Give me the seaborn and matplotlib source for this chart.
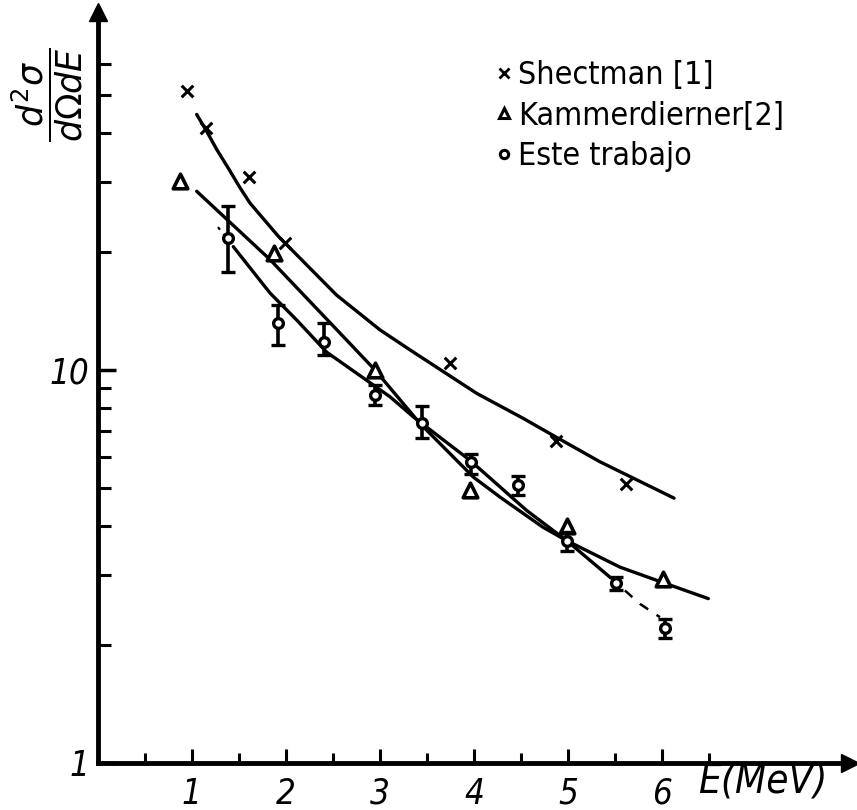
import numpy as np
import pandas as pd
import matplotlib
matplotlib.use("Agg")
import matplotlib.pyplot as plt
import seaborn as sns
from matplotlib.lines import Line2D
from matplotlib.ticker import FixedLocator, FixedFormatter, NullFormatter
from matplotlib.font_manager import FontProperties

# ---- data ----
shect_x = [0.95, 1.15, 1.61, 1.99, 3.75, 4.87, 5.62]
shect_y = [51.3, 41.4, 31.0, 21.0, 10.4, 6.6, 5.14]

kamm_x = [0.88, 1.88, 2.95, 3.96, 4.99, 6.01]
kamm_y = [30.2, 19.8, 10.0, 4.96, 4.0, 2.94]

este_x = [1.39, 1.915, 2.41, 2.95, 3.445, 3.966, 4.47, 4.99, 5.51, 6.03]
este_y = [21.7, 13.2, 11.8, 8.64, 7.31, 5.84, 5.09, 3.68, 2.87, 2.21]
este_lo = [17.8, 11.6, 10.9, 8.14, 6.70, 5.45, 4.80, 3.47, 2.75, 2.08]
este_hi = [26.1, 14.65, 13.2, 9.16, 8.09, 6.13, 5.37, 3.87, 2.97, 2.33]

# hand-drawn fitted curves
curve_s_x = [1.054, 1.160, 1.267, 1.408, 1.514, 1.620, 1.921, 2.542, 3.002, 3.321,
             4.030, 4.525, 4.873, 5.340, 6.127]
curve_s_y = [44.7, 40.5, 36.4, 32.1, 29.1, 26.6, 21.9, 15.5, 12.65, 11.25,
             8.72, 7.53, 6.75, 5.84, 4.72]

curve_k_x = [1.054, 1.833, 2.471, 2.949, 3.427, 3.994, 4.277, 4.734, 4.986, 5.553, 6.006, 6.491]
curve_k_y = [28.5, 19.1, 13.2, 10.0, 7.31, 5.34, 4.75, 3.98, 3.68, 3.15, 2.88, 2.62]

curve_e_head_x = [1.28, 1.443]
curve_e_head_y = [23.1, 20.6]
curve_e_x = [1.443, 1.833, 2.117, 2.436, 3.108, 3.356, 3.959, 4.561, 4.986, 5.446]
curve_e_y = [20.6, 15.7, 13.4, 11.1, 8.55, 7.60, 5.89, 4.39, 3.68, 2.97]
curve_e_tail_x = [5.446, 5.765, 5.977]
curve_e_tail_y = [2.97, 2.54, 2.35]

x_tick_vals = [1, 2, 3, 4, 5, 6]
x_tick_labels = ["1", "2", "3", "4", "5", "6"]
x_minor_vals = [0.5, 1.5, 2.5, 3.5, 4.5, 5.5, 6.5]
y_tick_vals = [1, 10]
y_tick_labels = ["1", "10"]
y_minor_vals = [2, 3, 4, 5, 6, 7, 8, 9, 20, 30, 40, 50, 60]

legend_labels = ["Shectman [1]", "Kammerdierner[2]", "Este trabajo"]

# ---- style ----
sns.set_style("ticks")
plt.rcParams["font.family"] = ["DejaVu Sans"]
plt.rcParams["text.color"] = "black"
plt.rcParams["axes.labelcolor"] = "black"
plt.rcParams["xtick.color"] = "black"
plt.rcParams["ytick.color"] = "black"

W, H = 857, 810
fig = plt.figure(figsize=(W / 100, H / 100), dpi=100)
x0, y0, x1, y1 = 97.5, 763, 850, 12
ax = fig.add_axes([x0 / W, (H - y0) / H, (x1 - x0) / W, (y0 - y1) / H])
ax.set_yscale("log")
ax.set_xlim(0, (x1 - x0) / 94.1)
ax.set_ylim(1, 10 ** ((y0 - y1) / 393))

lw = 2.4
sns.lineplot(x=curve_s_x, y=curve_s_y, ax=ax, color="k", lw=lw, sort=False, estimator=None)
sns.lineplot(x=curve_k_x, y=curve_k_y, ax=ax, color="k", lw=lw, sort=False, estimator=None)
sns.lineplot(x=curve_e_head_x, y=curve_e_head_y, ax=ax, color="k", lw=1.6, sort=False,
             estimator=None, linestyle=(0, (1.5, 2.5)))
sns.lineplot(x=curve_e_x, y=curve_e_y, ax=ax, color="k", lw=lw, sort=False, estimator=None)
sns.lineplot(x=curve_e_tail_x, y=curve_e_tail_y, ax=ax, color="k", lw=1.8, sort=False,
             estimator=None, linestyle=(0, (4, 4)))

sns.scatterplot(x=shect_x, y=shect_y, ax=ax, marker="x", s=70, color="k", linewidth=2.2)
sns.scatterplot(x=kamm_x, y=kamm_y, ax=ax, marker="^", s=110, facecolor="white",
                edgecolor="k", linewidth=2.6, zorder=4)
ey = np.array(este_y)
ax.errorbar(este_x, este_y, yerr=[ey - np.array(este_lo), np.array(este_hi) - ey],
            fmt="o", mfc="white", mec="k", ms=7, mew=2.4, ecolor="k", elinewidth=2.6,
            capsize=5, capthick=2.6, zorder=5)

# axes look
for s in ["top", "right"]:
    ax.spines[s].set_visible(False)
for s in ["left", "bottom"]:
    ax.spines[s].set_linewidth(3.5)
    ax.spines[s].set_color("k")
ax.plot(1, 1, marker=">", color="k", ms=13, transform=ax.get_yaxis_transform(), clip_on=False)
ax.plot(0, 1, marker="^", color="k", ms=13, transform=ax.get_xaxis_transform(), clip_on=False)

tick_font = dict(family="DejaVu Sans", style="italic", size=25, stretch="condensed")
ax.xaxis.set_major_locator(FixedLocator(x_tick_vals))
ax.xaxis.set_major_formatter(FixedFormatter(x_tick_labels))
ax.xaxis.set_minor_locator(FixedLocator(x_minor_vals))
ax.yaxis.set_major_locator(FixedLocator(y_tick_vals))
ax.yaxis.set_major_formatter(FixedFormatter(y_tick_labels))
ax.yaxis.set_minor_locator(FixedLocator(y_minor_vals))
ax.yaxis.set_minor_formatter(NullFormatter())
ax.tick_params(axis="x", which="major", direction="in", length=10, width=2.2, pad=10)
ax.tick_params(axis="x", which="minor", direction="in", length=7, width=2.2)
ax.tick_params(axis="y", which="major", direction="in", length=13, width=2.5, pad=6)
ax.tick_params(axis="y", which="minor", direction="in", length=9, width=2.2)
for lab in ax.get_xticklabels() + ax.get_yticklabels():
    lab.set_fontproperties(FontProperties(**tick_font))
    lab.set_color("black")
ax.set_xlabel("")
ax.set_ylabel("")

fig.text(763 / W, 1 - 781 / H, "E(MeV)", ha="center", va="center", color="black",
         family="DejaVu Sans", style="italic", size=29, stretch="condensed")
fig.text(47 / W, 1 - 95 / H, r"$\dfrac{d^2\sigma}{d\Omega dE}$", rotation=90,
         ha="center", va="center", fontsize=25, color="black")

handles = [
    Line2D([], [], ls="", marker="x", color="k", ms=7, mew=2),
    Line2D([], [], ls="", marker="^", mfc="white", mec="k", ms=7, mew=2.2),
    Line2D([], [], ls="", marker="o", mfc="white", mec="k", ms=6, mew=2.2),
]
leg = fig.legend(handles, legend_labels, loc="upper left", bbox_to_anchor=(494 / W, 1 - 60 / H),
                 frameon=False, prop=FontProperties(family="DejaVu Sans", size=23,
                                                    stretch="condensed"),
                 handlelength=0.6, handletextpad=0.15,
                 labelspacing=0.3, borderpad=0, borderaxespad=0)
for t in leg.get_texts():
    t.set_color("black")

fig.savefig("out.png", dpi=100)
